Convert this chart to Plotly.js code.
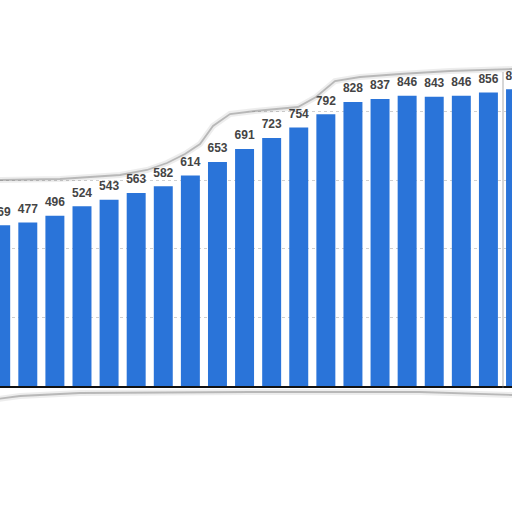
<!DOCTYPE html>
<html>
<head>
<meta charset="utf-8">
<script src="https://cdn.plot.ly/plotly-3.0.1.min.js"></script>
<style>
  html, body { margin: 0; padding: 0; background: #ffffff; }
  #chart { width: 512px; height: 512px; }
</style>
</head>
<body>
<div id="chart"></div>
<script>
// Bars, left to right (first and last are cut by the torn edge)
const categories = ['1', '2', '3', '4', '5', '6', '7', '8', '9', '10',
  '11', '12', '13', '14', '15', '16', '17', '18', '19', '20'];
const values = [469, 477, 496, 524, 543, 563, 582, 614, 653, 691,
  723, 754, 792, 828, 837, 846, 843, 846, 856, 865];
const valueLabels = values.map((v) => String(v));

const BAR_COLOR = '#2a74d9';
const W = 512;
const H = 512;
const PLOT_TOP = 43;
const PLOT_BOTTOM = 386;

// torn paper edges, in page pixels (decoration only)
const tearTop = [[-40, 181], [0, 180], [60, 179], [120, 175], [147, 170], [167, 163],
  [185, 154], [200, 144], [213, 126], [230, 114], [255, 111], [298, 107], [316, 97],
  [335, 81], [360, 77], [400, 74], [450, 71], [512, 69], [560, 68]];
const tearBottom = [[-10, 400], [20, 396], [80, 393], [250, 392], [420, 392], [512, 395]];

const toPaper = ([px, py]) => [px / W, (PLOT_BOTTOM - py) / (PLOT_BOTTOM - PLOT_TOP)];

const linePath = (list) => {
  const pts = list.map(toPaper);
  let d = `M ${pts[0][0]},${pts[0][1]}`;
  pts.slice(1).forEach((p) => { d += ` L ${p[0]},${p[1]}`; });
  return d;
};

const topEdge = linePath(tearTop);
const topFill = (() => {
  const first = toPaper(tearTop[0]);
  const last = toPaper(tearTop[tearTop.length - 1]);
  return `${topEdge} L ${last[0]},1.6 L ${first[0]},1.6 Z`;
})();
const bottomEdge = linePath(tearBottom);

const bars = {
  type: 'bar',
  x: categories,
  y: values,
  marker: { color: BAR_COLOR, line: { width: 0 } },
  hoverinfo: 'skip',
};

// value labels sit a little higher than plotly's bar text would
const labels = {
  type: 'scatter',
  mode: 'markers+text',
  x: categories,
  y: values,
  text: valueLabels,
  textposition: 'top center',
  textfont: { family: 'Liberation Sans, Arial, sans-serif', size: 12, color: '#444444', weight: 'bold' },
  marker: { size: 9, color: 'rgba(0,0,0,0)' },
  cliponaxis: true,
  hoverinfo: 'skip',
};

const edgeShapes = (path, fill) => [
  {
    type: 'path', xref: 'paper', yref: 'paper', layer: 'above',
    path: fill || path,
    fillcolor: fill ? '#ffffff' : undefined,
    line: { color: 'rgba(0,0,0,0.07)', width: 6 },
  },
  {
    type: 'path', xref: 'paper', yref: 'paper', layer: 'above',
    path,
    line: { color: 'rgba(120,120,120,0.45)', width: 1.8 },
  },
];

const layout = {
  width: W,
  height: H,
  margin: { l: 0, r: 0, t: PLOT_TOP, b: H - PLOT_BOTTOM, pad: 0 },
  paper_bgcolor: '#ffffff',
  plot_bgcolor: '#ffffff',
  bargap: 0.3,
  showlegend: false,
  xaxis: {
    type: 'category',
    range: [-0.026, 18.87],
    showticklabels: false,
    ticks: '',
    showgrid: false,
    showline: true,
    linecolor: '#111111',
    linewidth: 1.5,
    fixedrange: true,
  },
  yaxis: {
    range: [0, 1000],
    dtick: 200,
    showticklabels: false,
    ticks: '',
    showgrid: true,
    gridcolor: '#cfcfcf',
    griddash: 'dot',
    gridwidth: 1,
    zeroline: false,
    fixedrange: true,
  },
  shapes: [
    ...edgeShapes(topEdge, topFill),
    ...edgeShapes(bottomEdge),
    {
      type: 'line', xref: 'paper', yref: 'paper', layer: 'above',
      x0: 503 / W, x1: 503 / W, y0: toPaper([0, 388])[1], y1: toPaper([0, 72])[1],
      line: { color: 'rgba(120,120,120,0.3)', width: 2 },
    },
  ],
};

Plotly.newPlot('chart', [bars, labels], layout, { displayModeBar: false, staticPlot: true });
</script>
</body>
</html>
